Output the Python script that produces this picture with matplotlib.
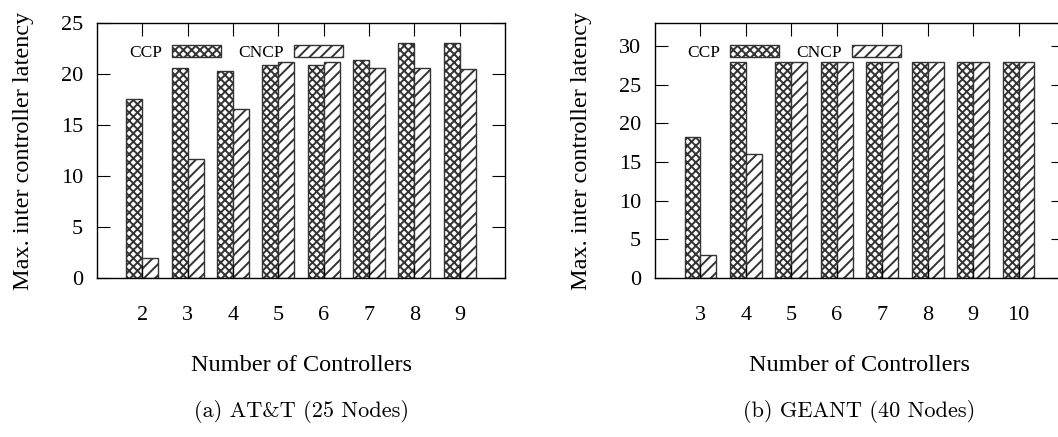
import numpy as np
import matplotlib
matplotlib.use('Agg')
import matplotlib.pyplot as plt

plt.rcParams['font.family'] = ['Liberation Serif', 'DejaVu Serif']
plt.rcParams['hatch.linewidth'] = 1.4
plt.rcParams['hatch.color'] = 'black'

# AT&T topology (25 nodes)
att_controllers = [2, 3, 4, 5, 6, 7, 8, 9]
att_ccp = [17.6, 20.6, 20.3, 20.9, 20.9, 21.4, 23.0, 23.0]
att_cncp = [2.0, 11.7, 16.6, 21.2, 21.2, 20.6, 20.6, 20.5]

# GEANT topology (40 nodes)
geant_controllers = [3, 4, 5, 6, 7, 8, 9, 10]
geant_ccp = [18.3, 28.0, 28.0, 28.0, 28.0, 28.0, 28.0, 28.0]
geant_cncp = [3.0, 16.0, 28.0, 28.0, 28.0, 28.0, 28.0, 28.0]

W = 0.35


def draw_panel(ax, xs, ccp, cncp, ymax, yticks, caption):
    xs = np.array(xs)
    ax.bar(xs - W / 2, ccp, W, facecolor='white', edgecolor='#333333',
           linewidth=1.0, hatch='xxxx', label='CCP')
    ax.bar(xs + W / 2, cncp, W, facecolor='white', edgecolor='#333333',
           linewidth=1.0, hatch='///', label='CNCP')
    ax.set_xlim(xs[0] - 1, xs[-1] + 1)
    ax.set_ylim(0, ymax)
    ax.set_xticks(xs)
    ax.set_yticks(yticks)
    ax.tick_params(axis='both', direction='in', length=9.5, width=0.8,
                   top=True, right=True, labelsize=16)
    ax.tick_params(axis='x', pad=20)
    ax.tick_params(axis='y', pad=10)
    for s in ax.spines.values():
        s.set_linewidth(1.0)
    ax.set_xlabel('Number of Controllers', fontsize=17.5, labelpad=22)
    ax.set_ylabel('Max. inter controller latency', fontsize=17.5, labelpad=19)
    ax.legend(loc='center left', bbox_to_anchor=(0.078, 0.883), ncol=2,
              markerfirst=False, frameon=False, fontsize=12.5,
              handlelength=2.8, handleheight=0.7, handletextpad=0.6,
              columnspacing=1.0, borderpad=0, borderaxespad=0)
    bb = ax.get_position()
    fig.text((bb.x0 + bb.x1) / 2, 0.058, caption, ha='center', va='center',
             fontsize=16, family='cmr10')


fig = plt.figure(figsize=(10.58, 4.37), dpi=100)
ax1 = fig.add_axes([0.0917, 0.3638, 0.3856, 0.5835])
ax2 = fig.add_axes([0.6191, 0.3638, 0.3866, 0.5835])

draw_panel(ax1, att_controllers, att_ccp, att_cncp, 25,
           [0, 5, 10, 15, 20, 25], '(a) AT&T (25 Nodes)')
draw_panel(ax2, geant_controllers, geant_ccp, geant_cncp, 33,
           [0, 5, 10, 15, 20, 25, 30], '(b) GEANT (40 Nodes)')

fig.savefig('out.png', dpi=100)
